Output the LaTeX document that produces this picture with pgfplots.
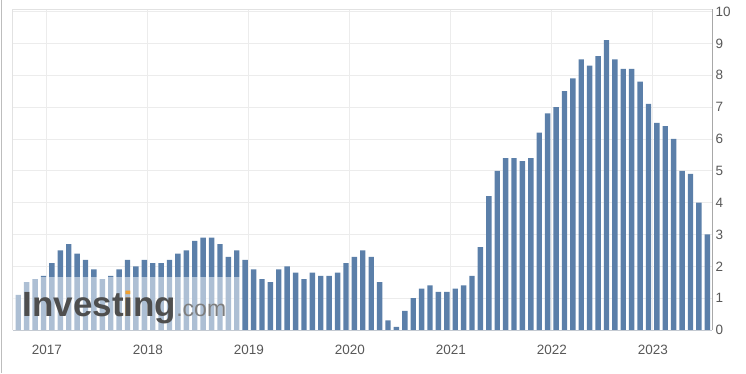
\documentclass[border=0pt]{standalone}
\usepackage{fontspec}
\setmainfont{Liberation Sans}
\usepackage{pgfplots}
\pgfplotsset{compat=1.18}
\usepackage{pgfplotstable}
\definecolor{barblue}{HTML}{5B7FA9}
\definecolor{gridc}{HTML}{ECECEC}
\definecolor{tickc}{HTML}{585858}
\definecolor{rightax}{HTML}{A8A8A8}
\definecolor{botax}{HTML}{C4CAD2}
\definecolor{lbord}{HTML}{E2E2E2}
\definecolor{outer}{HTML}{BDBDBD}
\definecolor{logogray}{HTML}{4E4E4E}
\definecolor{comgray}{HTML}{7E7E7E}
\definecolor{logoorange}{HTML}{F0A030}
\pgfplotstableread{
idx val
0 1.1
1 1.5
2 1.6
3 1.7
4 2.1
5 2.5
6 2.7
7 2.4
8 2.2
9 1.9
10 1.6
11 1.7
12 1.9
13 2.2
14 2.0
15 2.2
16 2.1
17 2.1
18 2.2
19 2.4
20 2.5
21 2.8
22 2.9
23 2.9
24 2.7
25 2.3
26 2.5
27 2.2
28 1.9
29 1.6
30 1.5
31 1.9
32 2.0
33 1.8
34 1.6
35 1.8
36 1.7
37 1.7
38 1.8
39 2.1
40 2.3
41 2.5
42 2.3
43 1.5
44 0.3
45 0.1
46 0.6
47 1.0
48 1.3
49 1.4
50 1.2
51 1.2
52 1.3
53 1.4
54 1.7
55 2.6
56 4.2
57 5.0
58 5.4
59 5.4
60 5.3
61 5.4
62 6.2
63 6.8
64 7.0
65 7.5
66 7.9
67 8.5
68 8.3
69 8.6
70 9.1
71 8.5
72 8.2
73 8.2
74 7.8
75 7.1
76 6.5
77 6.4
78 6.0
79 5.0
80 4.9
81 4.0
82 3.0
}\cpidata
\begin{document}
\begin{tikzpicture}
\useasboundingbox (0,0) rectangle (746pt,373pt);
\draw[color=outer, line width=1.5pt] (1.5pt,0) -- (1.5pt,373pt);
\begin{axis}[
  at={(13pt,43pt)}, anchor=south west,
  scale only axis, width=699pt, height=320.7pt,
  xmin=-0.63, xmax=82.56, ymin=0, ymax=10.07,
  clip=false,
  ybar, bar width=5.4pt,
  ytick={0,1,...,10},
  yticklabel pos=right,
  xtick={3.4,15.42,27.44,39.46,51.48,63.5,75.52},
  xticklabels={2017,2018,2019,2020,2021,2022,2023},
  major tick length=0pt,
  tick style={draw=none},
  axis line style={draw=none},
  grid=major,
  major grid style={color=gridc, line width=0.8pt},
  /pgf/number format/assume math mode=true,
  xticklabel style={anchor=center, yshift=-20pt, font=\fontsize{13.5}{16}\selectfont, text=tickc},
  yticklabel style={anchor=west, xshift=0pt, font=\fontsize{13.5}{16}\selectfont, text=tickc},
]
\addplot[fill=barblue, draw=none] table[x=idx, y=val] {\cpidata};
\fill[white, opacity=0.5] (axis cs:-0.63,0) rectangle (axis cs:26.45,1.66);
\node[anchor=base west, inner sep=0pt, text=logogray, font=\fontsize{35}{35}\bfseries\selectfont] at (axis cs:0.5,0.41) {Invest\rlap{\color{logoorange}i}ıng\textcolor{comgray}{\fontsize{23}{23}\mdseries\selectfont .com}};
\draw[color=lbord, line width=1pt] (rel axis cs:0,0) -- (rel axis cs:0,1) -- (rel axis cs:1,1);
\draw[color=rightax, line width=1pt] (rel axis cs:1,0) -- (rel axis cs:1,1);
\draw[color=botax, line width=1pt] (rel axis cs:0,0) -- (rel axis cs:1,0);
\end{axis}
\end{tikzpicture}
\end{document}
